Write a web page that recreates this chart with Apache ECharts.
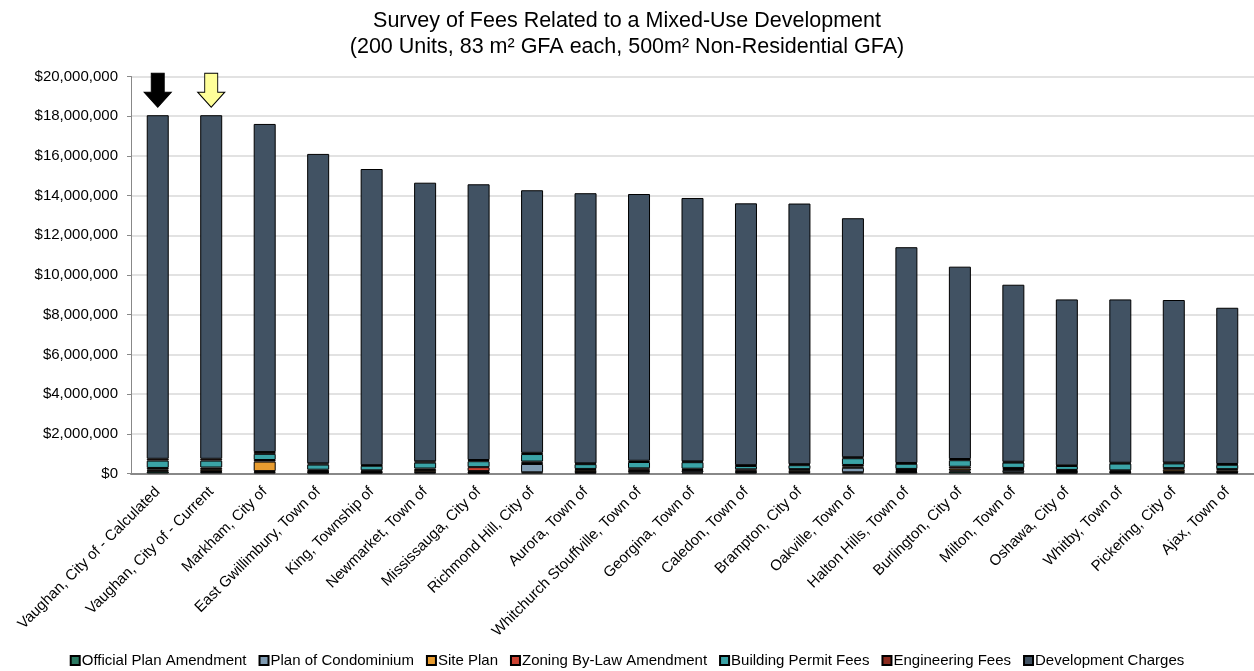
<!DOCTYPE html>
<html>
<head>
<meta charset="utf-8">
<script src="https://cdn.jsdelivr.net/npm/echarts@6/dist/echarts.min.js"></script>
<style>html,body{margin:0;padding:0;background:#fff}#c{width:1254px;height:671px}</style>
</head>
<body>
<div id="c"></div>
<script>
const categories = ["Vaughan, City of - Calculated","Vaughan, City of - Current","Markham, City of","East Gwillimbury, Town of","King, Township of","Newmarket, Town of","Mississauga, City of","Richmond Hill, City of","Aurora, Town of","Whitchurch Stouffville, Town of","Georgina, Town of","Caledon, Town of","Brampton, City of","Oakville, Town of","Halton Hills, Town of","Burlington, City of","Milton, Town of","Oshawa, City of","Whitby, Town of","Pickering, City of","Ajax, Town of"];
const officialPlanAmendment = [100000,80000,70000,50000,50000,60000,40000,60000,50000,50000,50000,60000,60000,60000,80000,100000,60000,50000,50000,50000,50000];
const planOfCondominium    = [40000,40000,50000,20000,20000,30000,20000,420000,30000,80000,90000,30000,30000,230000,40000,50000,110000,30000,20000,30000,20000];
const sitePlan             = [60000,100000,480000,60000,40000,90000,60000,60000,90000,60000,40000,50000,70000,60000,50000,100000,50000,40000,40000,110000,90000];
const zoningByLaw          = [80000,80000,80000,60000,50000,70000,200000,60000,60000,70000,60000,70000,60000,80000,60000,90000,60000,60000,50000,80000,60000];
const buildingPermitFees   = [370000,350000,310000,260000,230000,300000,300000,380000,240000,320000,330000,170000,200000,340000,260000,330000,270000,200000,340000,240000,220000];
const engineeringFees      = [90000,90000,90000,60000,30000,60000,60000,60000,40000,60000,40000,40000,50000,50000,40000,60000,40000,30000,40000,40000,40000];
const developmentCharges   = [17310000,17310000,16530000,15590000,14920000,14040000,13890000,13230000,13610000,13440000,13270000,13190000,13130000,12040000,10870000,9690000,8920000,8360000,8230000,8190000,7870000];
const yTicks = {min: 0, max: 20000000, interval: 2000000};
const seriesNames = ["Official Plan Amendment","Plan of Condominium","Site Plan","Zoning By-Law Amendment","Building Permit Fees","Engineering Fees","Development Charges"];
const seriesData = [officialPlanAmendment,planOfCondominium,sitePlan,zoningByLaw,buildingPermitFees,engineeringFees,developmentCharges];
const colors = ["#2b7a62","#7f9bb2","#e89c30","#cc4333","#3aa3a6","#8b2b1f","#415263"];

const totals = categories.map((_, i) => seriesData.reduce((s, arr) => s + arr[i], 0));
const arrowPath = 'path://M7,0 L20,0 L20,19 L27,19 L13.5,34 L0,19 L7,19 Z';

const font = '"Liberation Sans", Arial, sans-serif';
const chart = echarts.init(document.getElementById('c'));
const series = seriesNames.map((name, k) => {
  const s = {
    name, type: 'bar', stack: 'fees', barWidth: 22,
    data: seriesData[k],
    itemStyle: {color: colors[k], borderColor: '#000', borderWidth: 1},
    emphasis: {disabled: true}
  };
  if (k === seriesNames.length - 1) {
    s.markPoint = {
      silent: true,
      label: {show: false},
      symbol: arrowPath,
      symbolSize: [27, 34],
      symbolOffset: [0, -25],
      data: [
        {coord: [categories[0], totals[0]], itemStyle: {color: '#000000', borderColor: '#000', borderWidth: 1}},
        {coord: [categories[1], totals[1]], itemStyle: {color: '#ffff99', borderColor: '#000', borderWidth: 1}}
      ]
    };
  }
  return s;
});

chart.setOption({
  animation: false,
  textStyle: {fontFamily: font},
  title: {
    text: 'Survey of Fees Related to a Mixed-Use Development\n(200 Units, 83 m² GFA each, 500m² Non-Residential GFA)',
    left: 'center', top: 3,
    textStyle: {fontFamily: font, fontSize: 21.5, fontWeight: 'normal', color: '#000', lineHeight: 26}
  },
  legend: {
    top: 648, left: 'center',
    itemWidth: 9, itemHeight: 9, itemGap: 12,
    icon: 'rect',
    textStyle: {fontFamily: font, fontSize: 15, color: '#000', padding: [0, 0, 0, -3]},
    data: seriesNames
  },
  grid: {left: 131, top: 76.5, width: 1127, bottom: 197.5, containLabel: false},
  xAxis: {
    type: 'category', data: categories,
    axisLine: {lineStyle: {color: '#888', width: 2}},
    axisTick: {show: false},
    axisLabel: {rotate: 45, interval: 0, fontFamily: font, fontSize: 15, color: '#000', margin: 16}
  },
  yAxis: {
    type: 'value', min: yTicks.min, max: yTicks.max, interval: yTicks.interval,
    axisLine: {show: true, lineStyle: {color: '#888'}},
    axisTick: {show: true, length: 4, lineStyle: {color: '#888'}},
    splitLine: {lineStyle: {color: '#d9d9d9', width: 1.5}},
    axisLabel: {
      fontFamily: font, fontSize: 15, color: '#000', margin: 13,
      formatter: v => '$' + v.toLocaleString('en-US')
    }
  },
  series
});
</script>
</body>
</html>
